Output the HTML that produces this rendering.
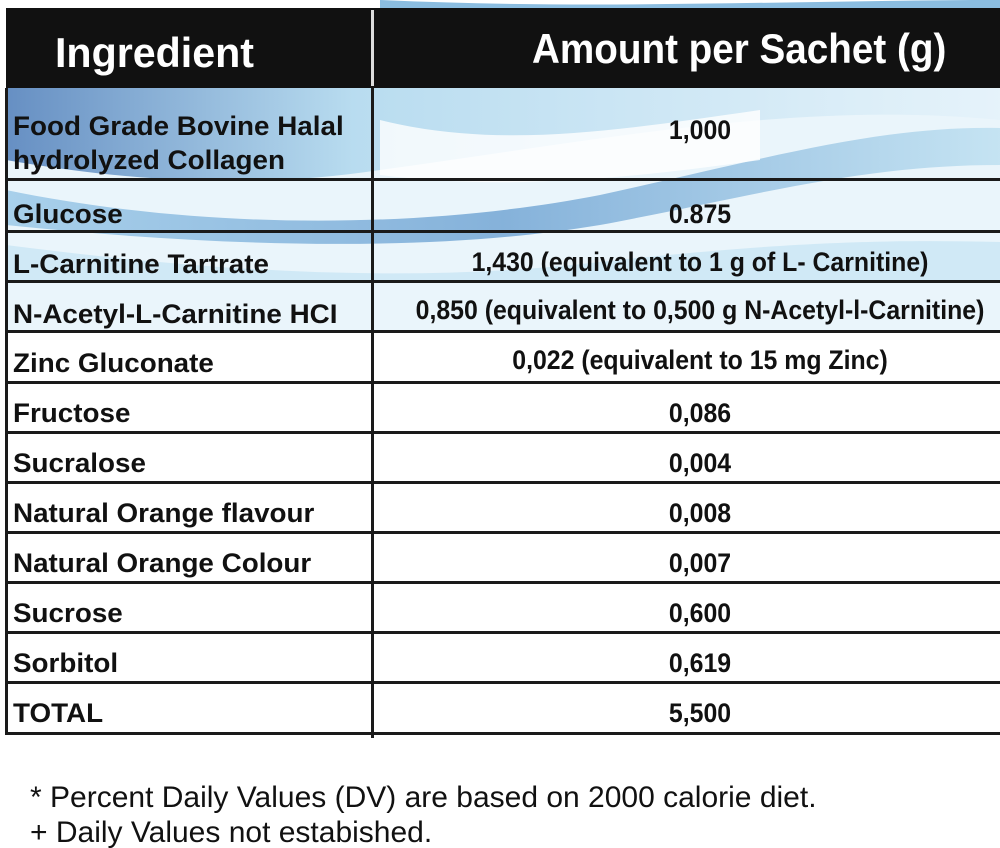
<!DOCTYPE html>
<html><head><meta charset="utf-8"><style>
html,body{margin:0;padding:0;background:#fff;}
#c{position:relative;width:1000px;height:848px;overflow:hidden;font-family:"Liberation Sans",sans-serif;}
.h{position:absolute;height:3px;background:#1a1a1a;left:6px;right:0;}
.t{position:absolute;font-weight:bold;color:#111;font-size:27px;white-space:nowrap;transform:scaleX(1.03);transform-origin:left center;line-height:32px;}
.v{position:absolute;font-weight:bold;color:#111;font-size:27px;white-space:nowrap;transform:translateX(-50%) scaleX(0.92);line-height:32px;left:700px;}
.f{position:absolute;left:30px;font-size:30px;color:#111;white-space:nowrap;transform:scaleX(1.0);transform-origin:left center;}
</style></head><body><div id="c">
<svg width="1000" height="340" style="position:absolute;left:0;top:0">
<defs>
<linearGradient id="g1" x1="0" y1="0" x2="1" y2="0"><stop offset="0" stop-color="#3a6db0"/><stop offset="0.35" stop-color="#a8d4ec"/><stop offset="1" stop-color="#e4f2fa"/></linearGradient>
<linearGradient id="g2" x1="0" y1="0" x2="1" y2="0"><stop offset="0" stop-color="#8cc0e4"/><stop offset="0.5" stop-color="#5a95cc"/><stop offset="1" stop-color="#b5dcef"/></linearGradient>
</defs>
<rect x="6" y="88" width="994" height="245" fill="#eaf5fb"/>
<path d="M6 88 L1000 88 L1000 120 C800 100 600 140 380 170 C250 190 120 180 6 160 Z" fill="url(#g1)" opacity="0.75"/>
<path d="M6 190 C200 230 420 230 600 195 C760 160 880 125 1000 128 L1000 165 C860 165 760 195 600 225 C420 255 200 245 6 225 Z" fill="url(#g2)" opacity="0.7"/>
<path d="M380 120 C500 150 620 130 760 110 L760 160 C620 180 500 190 380 175 Z" fill="#ffffff" opacity="0.8"/>
<path d="M6 245 C200 270 400 285 600 262 C800 240 900 240 1000 242 L1000 283 L6 283 Z" fill="#c5e4f3" opacity="0.7"/>
<path d="M380 0 C600 10 800 0 1000 0 L1000 8 L380 8 Z" fill="#8bbde0"/>
</svg>
<div style="position:absolute;left:6px;top:8px;width:994px;height:80px;background:#111"></div>
<div style="position:absolute;left:371px;top:10px;width:3px;height:76px;background:#ddd"></div>
<div class="t" style="left:55px;top:30px;font-size:42px;line-height:46px;color:#fff;transform:scaleX(0.98)">Ingredient</div>
<div class="t" style="left:532px;top:26px;font-size:42px;line-height:46px;color:#fff;transform:scaleX(0.92)">Amount per Sachet (g)</div>
<div style="position:absolute;left:5px;top:88px;width:3px;height:647px;background:#1a1a1a"></div>
<div style="position:absolute;left:371px;top:88px;width:3px;height:650px;background:#1a1a1a"></div>
<div class="h" style="top:178px"></div>
<div class="h" style="top:230px"></div>
<div class="h" style="top:280px"></div>
<div class="h" style="top:330px"></div>
<div class="h" style="top:381px"></div>
<div class="h" style="top:431px"></div>
<div class="h" style="top:481px"></div>
<div class="h" style="top:531px"></div>
<div class="h" style="top:581px"></div>
<div class="h" style="top:631px"></div>
<div class="h" style="top:681px"></div>
<div class="h" style="top:732px"></div>
<div class="t" style="left:13px;top:110px">Food Grade Bovine Halal</div>
<div class="t" style="left:13px;top:144px">hydrolyzed Collagen</div>
<div class="v" style="top:114px">1,000</div>
<div class="t" style="left:13px;top:198px">Glucose</div><div class="v" style="top:198px">0.875</div>
<div class="t" style="left:13px;top:248px">L-Carnitine Tartrate</div><div class="v" style="top:246px">1,430 (equivalent to 1 g of L- Carnitine)</div>
<div class="t" style="left:13px;top:298px">N-Acetyl-L-Carnitine HCI</div><div class="v" style="top:294px">0,850 (equivalent to 0,500 g N-Acetyl-l-Carnitine)</div>
<div class="t" style="left:13px;top:347px">Zinc Gluconate</div><div class="v" style="top:344px">0,022 (equivalent to 15 mg Zinc)</div>
<div class="t" style="left:13px;top:397px">Fructose</div><div class="v" style="top:397px">0,086</div>
<div class="t" style="left:13px;top:447px">Sucralose</div><div class="v" style="top:447px">0,004</div>
<div class="t" style="left:13px;top:497px">Natural Orange flavour</div><div class="v" style="top:497px">0,008</div>
<div class="t" style="left:13px;top:547px">Natural Orange Colour</div><div class="v" style="top:547px">0,007</div>
<div class="t" style="left:13px;top:597px">Sucrose</div><div class="v" style="top:597px">0,600</div>
<div class="t" style="left:13px;top:647px">Sorbitol</div><div class="v" style="top:647px">0,619</div>
<div class="t" style="left:13px;top:697px">TOTAL</div><div class="v" style="top:697px">5,500</div>
<div class="f" style="top:781px">* Percent Daily Values (DV) are based on 2000 calorie diet.</div>
<div class="f" style="top:816px">+ Daily Values not estabished.</div>
</div></body></html>
